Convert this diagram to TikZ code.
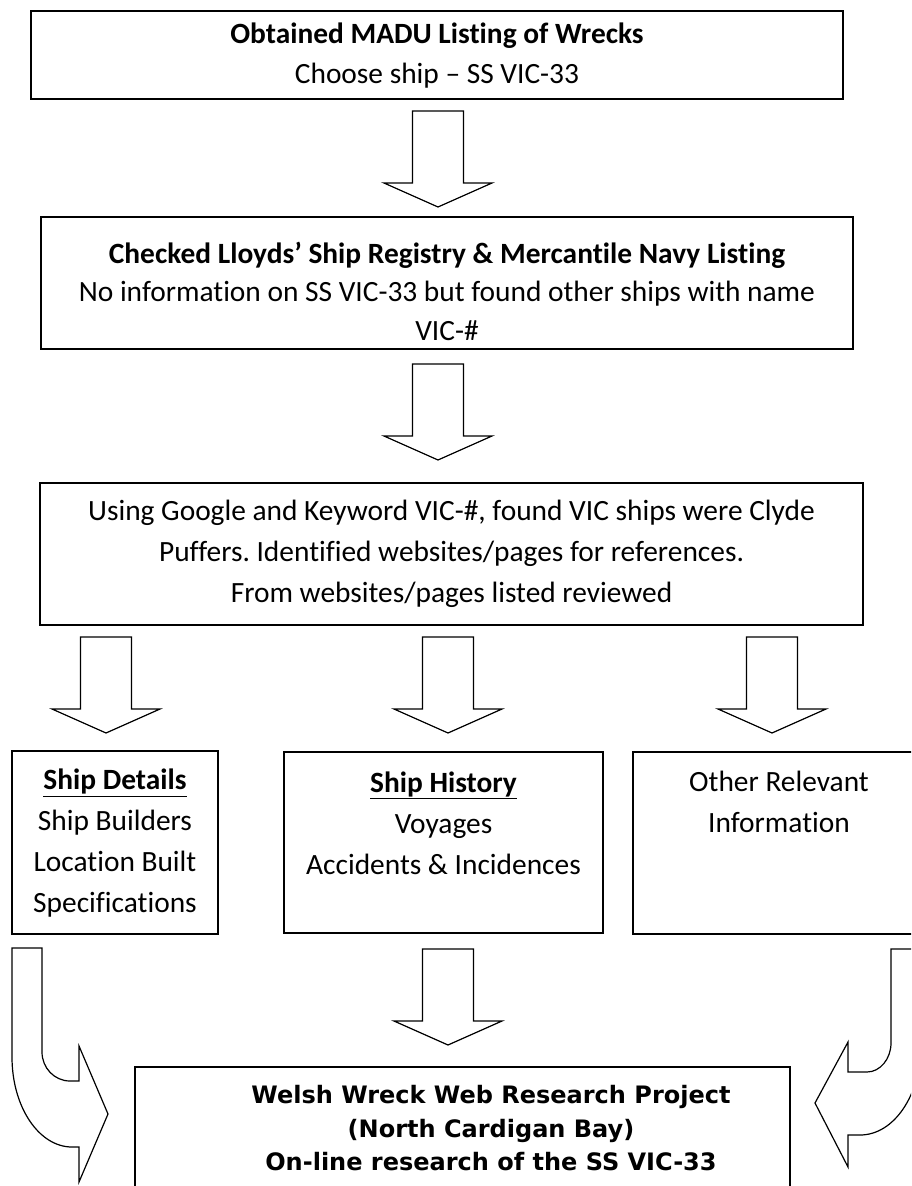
\documentclass[tikz,border=0pt]{standalone}
\usepackage{fontspec}
\setmainfont{Carlito}[Ligatures=NoCommon]
\newfontfamily\verdana{DejaVu Sans}
\frenchspacing
\tikzset{
  box/.style={draw, line width=1.6pt, inner sep=0pt},
  boxtext/.style={align=center, inner sep=0pt, font=\fontsize{29.4}{41}\selectfont},
  arrowline/.style={draw, line width=1.2pt, fill=white, line join=miter},
}
% block arrow pointing down: centre x, top y
\newcommand{\blockarrow}[2]{%
  \draw[arrowline] ({#1-25.5},#2) -- ({#1+25.5},#2) -- ({#1+25.5},{#2+72}) -- ({#1+54},{#2+72})
    -- (#1,{#2+96}) -- ({#1-54},{#2+72}) -- ({#1-25.5},{#2+72}) -- cycle;}

\begin{document}
\begin{tikzpicture}[x=1pt, y=-1pt]
\useasboundingbox (0,0) rectangle (911,1186);
\clip (0,0) rectangle (911,1186);

\node[box, minimum width=812pt, minimum height=88pt] (madu) at (437,55) {};
\node[boxtext, font=\fontsize{29.4}{40}\selectfont] (madutext) at (437,56) {\textbf{Obtained MADU Listing of Wrecks}\\Choose ship – SS VIC-33};

\node[box, minimum width=812pt, minimum height=132pt] (lloyds) at (447,283) {};
\node[boxtext, font=\fontsize{29.4}{38.5}\selectfont] (lloydstext) at (447,291) {\textbf{Checked Lloyds’ Ship Registry \& Mercantile Navy Listing}\\No information on SS VIC-33 but found other ships with name\\VIC-\#};

\node[box, minimum width=823pt, minimum height=142pt] (google) at (451.5,554) {};
\node[boxtext] (googletext) at (451.5,554) {Using Google and Keyword VIC-\#, found VIC ships were Clyde\\Puffers. Identified websites/pages for references.\\From websites/pages listed reviewed};

\node[box, minimum width=206pt, minimum height=183pt] (details) at (115,842.5) {};
\node[boxtext] (detailstext) at (115,843.5) {\textbf{\underline{Ship Details}}\\Ship Builders\\Location Built\\Specifications};

\node[box, minimum width=319pt, minimum height=181pt] (history) at (443.5,842.5) {};
\node[boxtext] (historytext) at (443.5,823) {\textbf{\underline{Ship History}}\\Voyages\\Accidents \& Incidences};

\node[box, minimum width=292pt, minimum height=182pt] (other) at (779,843) {};
\node[boxtext] (othertext) at (779,802) {Other Relevant\\Information};

\node[box, minimum width=655pt, minimum height=133pt] (project) at (462.5,1133.5) {};
\node[boxtext, font=\verdana\bfseries\fontsize{24}{33.5}\selectfont] (projecttext) at (491,1128.5) {Welsh Wreck Web Research Project\\(North Cardigan Bay)\\On-line research of the SS VIC-33};

\blockarrow{438}{111}
\blockarrow{438}{364}
\blockarrow{106}{637}
\blockarrow{448}{637}
\blockarrow{772}{637}
\blockarrow{448}{949}

% curved arrows into the project box
\draw[arrowline] (12,948) -- (42,948) -- (42,1052) .. controls (42,1068) and (54.5,1081) .. (70,1081)
  -- (79,1081) -- (79,1046) -- (108,1114) -- (79,1182) -- (79,1147) -- (72,1147)
  .. controls (39,1147) and (12,1107) .. (12,1057) -- cycle;
\draw[arrowline] (891,949) -- (921,949) -- (921,1045) .. controls (921,1095) and (894,1135) .. (860,1135)
  -- (848,1135) -- (848,1167) -- (815,1103) -- (848,1042) -- (848,1072) -- (867,1072)
  .. controls (880,1072) and (891,1059) .. (891,1043) -- cycle;
\end{tikzpicture}
\end{document}
